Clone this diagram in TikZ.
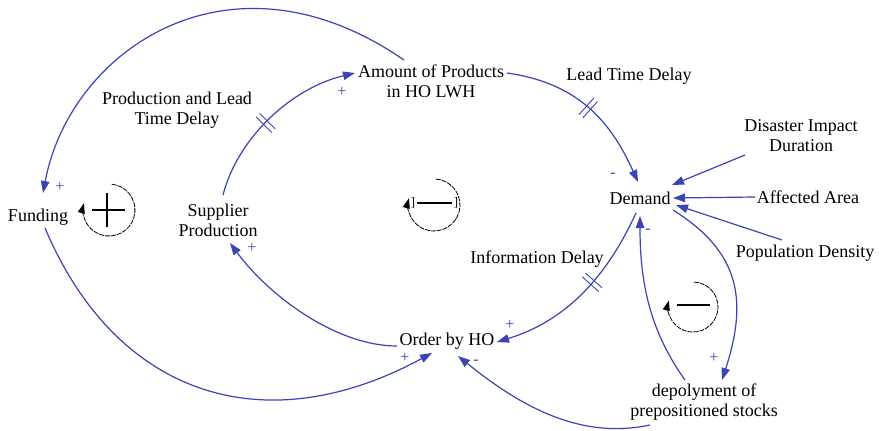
\documentclass[tikz,border=0pt]{standalone}
\usepackage{fontspec}
\setmainfont{Liberation Serif}
\usetikzlibrary{arrows.meta,decorations.markings}

\definecolor{linkblue}{RGB}{58,68,180}

\begin{document}
\begin{tikzpicture}[x=1pt,y=-1pt,
  var/.style={inner sep=0pt, align=center, font=\fontsize{18}{20}\selectfont},
  link/.style={draw=linkblue, line width=1.2pt, -{Triangle[length=12pt,width=8.5pt]}},
  delay/.style={postaction={decorate,decoration={markings,
      mark=at position #1 with {\draw[linkblue,line width=0.9pt,-]
        (-2.5pt,-11pt) -- (-2.5pt,11pt) (2.5pt,-11pt) -- (2.5pt,11pt);}}}},
  sign/.style={text=linkblue, inner sep=0pt, font=\fontsize{16}{16}\selectfont},
  loopline/.style={draw=black, line width=0.8pt, dash pattern=on 5pt off 1pt,
      -{Triangle[length=10pt,width=7pt]}},
  loopbar/.style={line width=2.4pt, black}]

\useasboundingbox[fill=white] (0,0) rectangle (881,431);

% variables
\node[var] (funding)  at (38,217)  {Funding};
\node[var] (supplier) at (218,220) {Supplier\\Production};
\node[var] (amount)   at (431,81)  {Amount of Products\\in HO LWH};
\node[var] (demand)   at (640,198) {Demand};
\node[var] (order)    at (447,341) {Order by HO};
\node[var] (deploy)   at (704,402) {depolyment of\\prepositioned stocks};
\node[var] (disaster) at (801,136) {Disaster Impact\\Duration};
\node[var] (affected) at (808,197) {Affected Area};
\node[var] (popdens)  at (805,253) {Population Density};

% delay labels
\node[var] (leadlbl) at (629,76)  {Lead Time Delay};
\node[var] (prodlbl) at (177,110) {Production and Lead\\Time Delay};
\node[var] (infolbl) at (537,259) {Information Delay};

% causal links
\draw[link] ([shift={(-27,-21)}]amount.center)
  .. controls (230,-60) and (70,50) .. ([shift={(5,-24)}]funding.center);
\draw[link] ([shift={(7,11)}]funding.center)
  .. controls (115,394) and (262,445) .. ([shift={(-15,12)}]order.center);
\draw[link] ([shift={(-50,5)}]order.center)
  .. controls (337,346) and (270,297) .. ([shift={(12,23)}]supplier.center);
\draw[link,delay=0.45] ([shift={(5,-25)}]supplier.center)
  .. controls (238,137) and (292,88) .. ([shift={(-76,-8)}]amount.center);
\draw[link,delay=0.5] ([shift={(76,-8)}]amount.center)
  .. controls (577,83) and (610,120) .. ([shift={(-2,-16)}]demand.center);
\draw[link,delay=0.42] ([shift={(-4,15)}]demand.center)
  .. controls (612,265) and (575,318) .. ([shift={(50,1)}]order.center);
\draw[link] ([shift={(-19,-22)}]deploy.center)
  .. controls (647,327) and (640,276) .. ([shift={(0,18)}]demand.center);
\draw[link] ([shift={(33,12)}]demand.center)
  .. controls (740,252) and (748,300) .. ([shift={(18,-22)}]deploy.center);
\draw[link] ([shift={(-54,23)}]deploy.center)
  .. controls (580,440) and (520,406) .. ([shift={(11,15)}]order.center);
\draw[link] ([shift={(-56,19)}]disaster.center) -- ([shift={(32,-13)}]demand.center);
\draw[link] ([shift={(-53,0)}]affected.center) -- ([shift={(33,0)}]demand.center);
\draw[link] ([shift={(-23,-13)}]popdens.center) -- ([shift={(36,7)}]demand.center);

% polarities
\node[sign] (p1) at (60,187)  {+};
\node[sign] (p2) at (342,92)  {+};
\node[sign] (p3) at (613,175) {-};
\node[sign] (p4) at (252,248) {+};
\node[sign] (p5) at (405,358) {+};
\node[sign] (p6) at (510,325) {+};
\node[sign] (p7) at (476,362) {-};
\node[sign] (p8) at (648,231) {-};
\node[sign] (p9) at (714,358) {+};

% loop markers
\draw[loopline] (109,210) ++(84:26pt) arc[start angle=84,end angle=-195,radius=26pt];
\draw[loopbar] (92,210) -- (125,210) (107,193) -- (107,227);

\draw[loopline] (434,205) ++(86:26pt) arc[start angle=86,end angle=-195,radius=26pt];
\draw[loopbar, line width=2pt] (417,203) -- (452,203);
\node[inner sep=0pt, font=\fontsize{13}{13}\selectfont] (bl) at (413,203) {]};
\node[inner sep=0pt, font=\fontsize{13}{13}\selectfont] (br) at (456,203) {]};

\draw[loopline] (693,307) ++(88:25pt) arc[start angle=88,end angle=-195,radius=25pt];
\draw[loopbar] (677,305) -- (710,305);

\end{tikzpicture}
\end{document}
